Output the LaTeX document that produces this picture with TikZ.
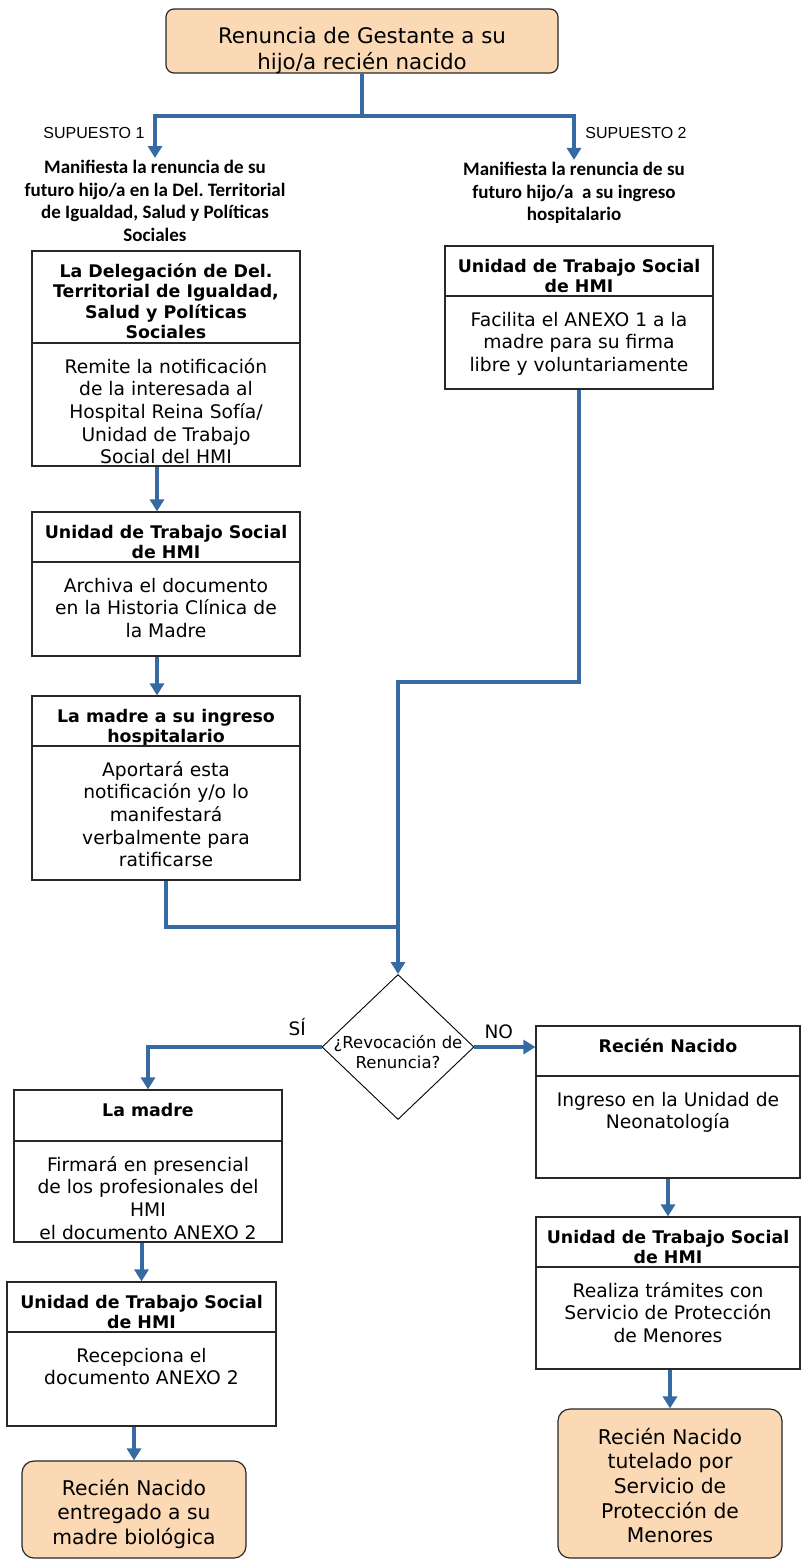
\documentclass[tikz,border=0pt]{standalone}
\usepackage{fontspec}
\setmainfont{DejaVu Sans}
\newfontfamily\calibrifont{Carlito}
\newfontfamily\arialfont{Liberation Sans}
\usetikzlibrary{arrows.meta, shapes.geometric, calc}
\definecolor{flowblue}{RGB}{54, 106, 163}
\definecolor{peach}{RGB}{252, 217, 181}
\definecolor{boxline}{RGB}{40, 40, 40}
\newcommand{\toptext}[4][30pt]{\parbox[c][#3][t]{#2}{\centering\rule{0pt}{#1}#4}}

\begin{document}
\begin{tikzpicture}[x=1pt, y=-1pt,
  flow/.style={draw=flowblue, line width=4pt, -{Triangle[width=14pt, length=12pt]}},
  joinline/.style={draw=flowblue, line width=4pt},
  hdr/.style={draw=boxline, line width=1.2pt, minimum width=268pt, inner sep=0pt, font=\fontsize{17.4}{20.5}\selectfont\bfseries},
  body/.style={draw=boxline, line width=1.2pt, minimum width=268pt, inner sep=0pt, font=\fontsize{18.7}{22.7}\selectfont},
  endbox/.style={draw=boxline, fill=peach, line width=1.2pt, rounded corners=12pt, minimum width=224pt, inner sep=0pt, font=\fontsize{20.3}{24.7}\selectfont},
  manif/.style={align=center, inner sep=2pt, font=\calibrifont\bfseries\fontsize{19}{22.7}\selectfont},
  sup/.style={font=\arialfont\fontsize{16}{19}\selectfont},
  lbl/.style={font=\fontsize{18.5}{22}\selectfont},
  dec/.style={diamond, draw=black, line width=0.9pt, minimum width=152pt, minimum height=145pt, inner sep=0pt}]
  \useasboundingbox (0,0) rectangle (801,1561);

  % Start
  \node[endbox, rounded corners=8pt, minimum width=392pt, font=\fontsize{21.4}{26}\selectfont] (start) at (362,41) {\toptext[34pt]{380pt}{64pt}{Renuncia de Gestante a su\\hijo/a recién nacido}};
  \coordinate (split) at (362,116);

  % The two cases
  \node[manif] (man1) at (155,201) {Manifiesta la renuncia de su\\futuro hijo/a en la Del.\ Territorial\\de Igualdad, Salud y Políticas\\Sociales};
  \node[manif] (man2) at (574,193) {Manifiesta la renuncia de su\\futuro hijo/a\ \ a su ingreso\\hospitalario};
  \node[sup] (sup1) at (94,133) {SUPUESTO 1};
  \node[sup] (sup2) at (636,133) {SUPUESTO 2};

  \draw[joinline] (start.south) -- (split);
  \draw[flow] (split) -| (man1.north);
  \draw[flow] (split) -| (man2.north);

  % Supuesto 1
  \node[hdr] (del1) at (166,297) {\toptext[26pt]{260pt}{92pt}{La Delegación de Del.\\Territorial de Igualdad,\\Salud y Políticas\\Sociales}};
  \node[body] (del2) at (166,404.5) {\toptext{260pt}{123pt}{Remite la notificación\\de la interesada al\\Hospital Reina Sofía/\\Unidad de Trabajo\\Social del HMI}};
  \node[hdr] (uts1h) at (166,537) {\toptext[26pt]{260pt}{50pt}{Unidad de Trabajo Social\\de HMI}};
  \node[body] (uts1b) at (166,609) {\toptext{260pt}{94pt}{Archiva el documento\\en la Historia Clínica de\\la Madre}};
  \node[hdr] (madre1h) at (166,721) {\toptext[26pt]{260pt}{50pt}{La madre a su ingreso\\hospitalario}};
  \node[body] (madre1b) at (166,813) {\toptext{260pt}{134pt}{Aportará esta\\notificación y/o lo\\manifestará\\verbalmente para\\ratificarse}};

  \draw[flow] ([xshift=-9pt]del2.south) -- ([xshift=-9pt]uts1h.north);
  \draw[flow] ([xshift=-9pt]uts1b.south) -- ([xshift=-9pt]madre1h.north);

  % Supuesto 2
  \node[hdr] (uts2h) at (579,271) {\toptext[26pt]{260pt}{50pt}{Unidad de Trabajo Social\\de HMI}};
  \node[body] (uts2b) at (579,342.5) {\toptext{260pt}{93pt}{Facilita el ANEXO 1 a la\\madre para su firma\\libre y voluntariamente}};

  % Decision
  \node[dec] (dec) at (398,1047) {};
  \node[font=\fontsize{16.5}{20}\selectfont, align=center] (dectxt) at (398,1052) {¿Revocación de\\Renuncia?};
  \coordinate (bend) at (398,682);
  \coordinate (merge) at (398,927);
  \draw[flow] (uts2b.south) |- (bend) -- (dec.north);
  \draw[joinline] (madre1b.south) |- (merge);

  % SI branch
  \node[hdr] (madre2h) at (148,1115.5) {\toptext[26pt]{260pt}{51pt}{La madre}};
  \node[body] (madre2b) at (148,1191.5) {\toptext{260pt}{101pt}{Firmará en presencial\\de los profesionales del\\HMI\\el documento ANEXO 2}};
  \node[hdr, minimum width=269pt] (uts4h) at (141.5,1307) {\toptext[26pt]{260pt}{50pt}{Unidad de Trabajo Social\\de HMI}};
  \node[body, minimum width=269pt] (uts4b) at (141.5,1379) {\toptext{260pt}{94pt}{Recepciona el\\documento ANEXO 2}};
  \node[endbox] (end1) at (134,1509.5) {\toptext[34pt]{216pt}{97pt}{Recién Nacido\\entregado a su\\madre biológica}};

  \draw[flow] (dec.west) -| node[lbl, pos=0.07, above=6pt] (si) {SÍ} (madre2h.north);
  \draw[flow] (madre2b.south -| uts4h.north) -- (uts4h.north);
  \draw[flow] (uts4b.south -| end1.north) -- (end1.north);

  % NO branch
  \node[hdr, minimum width=264pt] (rn1h) at (668,1051) {\toptext[26pt]{256pt}{50pt}{Recién Nacido}};
  \node[body, minimum width=264pt] (rn1b) at (668,1127) {\toptext{256pt}{102pt}{Ingreso en la Unidad de\\Neonatología}};
  \node[hdr, minimum width=264pt] (uts3h) at (668,1242) {\toptext[26pt]{256pt}{50pt}{Unidad de Trabajo Social\\de HMI}};
  \node[body, minimum width=264pt] (uts3b) at (668,1318) {\toptext{256pt}{102pt}{Realiza trámites con\\Servicio de Protección\\de Menores}};
  \node[endbox] (end2) at (670,1483.5) {\toptext[35pt]{216pt}{149pt}{Recién Nacido\\tutelado por\\Servicio de\\Protección de\\Menores}};

  \draw[flow] (dec.east) -- node[lbl, pos=0.4, above=3pt] (no) {NO} (rn1h.west |- dec.east);
  \draw[flow] (rn1b.south) -- (uts3h.north);
  \draw[flow] (uts3b.south -| end2.north) -- (end2.north);
\end{tikzpicture}
\end{document}
